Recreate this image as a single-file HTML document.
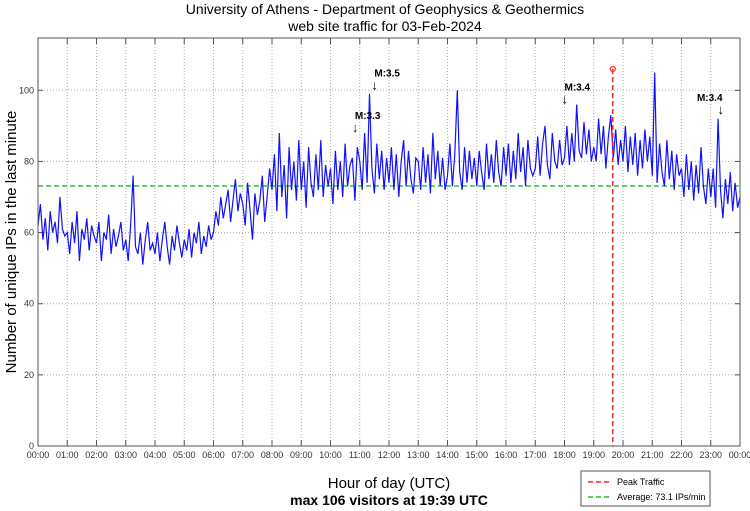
<!DOCTYPE html>
<html><head><meta charset="utf-8"><style>
body{margin:0;background:#fff}
svg{display:block;font-family:"Liberation Sans",sans-serif}
</style></head><body>
<svg id="chart" width="750" height="511">
<text x="385" y="14" font-size="14" text-anchor="middle">University of Athens - Department of Geophysics &amp; Geothermics</text>
<text x="385" y="31" font-size="14" text-anchor="middle">web site traffic for 03-Feb-2024</text>
<g id="grid"></g>
<g id="series"></g>
<g id="annot"></g>
<rect x="38" y="38" width="702" height="408" fill="none" stroke="#555" stroke-width="1"/>
<text transform="translate(16,242) rotate(-90)" font-size="15" text-anchor="middle">Number of unique IPs in the last minute</text>
<text x="389" y="488" font-size="15" text-anchor="middle">Hour of day (UTC)</text>
<text x="389" y="505" font-size="14" text-anchor="middle" font-weight="bold">max 106 visitors at 19:39 UTC</text>
<g>
<rect x="581" y="471" width="129" height="35" fill="#fff" stroke="#555"/>
<line x1="588" y1="482" x2="612" y2="482" stroke="#f22" stroke-width="1.5" stroke-dasharray="5,3"/>
<text x="617" y="485" font-size="9">Peak Traffic</text>
<line x1="588" y1="497" x2="612" y2="497" stroke="#2b2" stroke-width="1.5" stroke-dasharray="5,3"/>
<text x="617" y="500" font-size="9">Average: 73.1 IPs/min</text>
</g>
</svg>
<script>
const values=[
62,68,58,64,55,66,60,63,57,70,61,59,
60,54,63,57,66,52,61,58,64,55,62,59,
57,63,52,60,58,65,54,61,56,59,63,55,
58,52,62,76,56,54,60,51,58,63,55,57,
54,60,52,58,63,56,51,59,55,62,57,53,
58,55,61,53,60,57,63,54,59,56,62,58,
60,66,62,70,64,68,72,63,69,75,66,71,
68,62,74,66,58,71,65,69,76,63,70,78,
72,82,66,88,70,79,64,84,72,80,69,86,
72,80,67,84,74,70,82,72,86,70,79,73,
78,68,83,72,80,70,85,73,79,81,69,84,
80,72,88,74,99,78,71,85,75,83,72,81,
74,84,72,82,70,80,86,73,83,75,71,81,
80,72,84,74,82,71,88,75,83,73,81,72,
76,85,73,82,100,77,72,84,74,83,75,81,
73,83,77,72,85,75,82,74,86,77,73,84,
76,85,74,83,75,88,77,84,73,86,78,76,
78,87,76,85,90,79,75,88,80,78,86,79,
81,90,79,88,80,96,83,81,91,82,89,80,
84,80,92,82,90,78,87,93,81,89,79,86,
80,90,77,87,79,88,76,86,78,89,80,87,
76,105,74,85,77,73,86,75,83,72,82,76,
78,70,82,72,80,69,79,71,84,73,68,78,
70,78,67,92,72,64,75,68,77,66,74,67,70];
const stepMinutes=5;
const yTicks=[0,20,40,60,80,100];
const xTickLabels=["00:00","01:00","02:00","03:00","04:00","05:00","06:00","07:00","08:00","09:00","10:00","11:00","12:00","13:00","14:00","15:00","16:00","17:00","18:00","19:00","20:00","21:00","22:00","23:00","00:00"];
const peakMinute=19*60+39, peakValue=106;
const average=73.1;
const quakeLabels=["M:3.3","M:3.5","M:3.4","M:3.4"];
const quakeMinutes=[650,690,1080,1400];
const quakeValues=[88,100,96,93];

const X0=38,X1=740,Y0=446,Y1=38,YMAX=114.7;
const xs=m=>X0+(X1-X0)*m/1440;
const ys=v=>Y0-(Y0-Y1)*v/YMAX;
const NS="http://www.w3.org/2000/svg";
function mk(tag,attrs,parent){const e=document.createElementNS(NS,tag);for(const k in attrs)e.setAttribute(k,attrs[k]);parent.appendChild(e);return e;}
const grid=document.getElementById('grid'),ser=document.getElementById('series'),an=document.getElementById('annot'),svg=document.getElementById('chart');
yTicks.forEach(v=>{
 const y=ys(v);
 if(v>0){const g=mk('line',{x1:X0,x2:X1,y1:y,y2:y,stroke:'#aaa','stroke-dasharray':'1,2'},grid);
 
 }
 mk('line',{x1:X0,x2:X0+5,y1:y,y2:y,stroke:'#555'},grid);
 mk('line',{x1:X1-5,x2:X1,y1:y,y2:y,stroke:'#555'},grid);
 const t=mk('text',{x:X0-4,y:y+3,'font-size':9,'text-anchor':'end',fill:'#333'},svg);
 t.textContent=v;
 
 
});
xTickLabels.forEach((l,i)=>{
 const x=xs(i*60);
 if(i>0&&i<24){const g=mk('line',{x1:x,x2:x,y1:Y1,y2:Y0,stroke:'#aaa','stroke-dasharray':'1,2'},grid);
 
 }
 mk('line',{x1:x,x2:x,y1:Y0-6,y2:Y0,stroke:'#555'},grid);
 mk('line',{x1:x,x2:x,y1:Y1,y2:Y1+6,stroke:'#555'},grid);
 const t=mk('text',{x:x,y:458,'font-size':9,'text-anchor':'middle',fill:'#333'},svg);
 t.textContent=l;
 
 
});
const avg=mk('line',{x1:X0,x2:X1,y1:ys(average),y2:ys(average),stroke:'#2a2','stroke-width':1.3,'stroke-dasharray':'5,3'},ser);


const pts=values.map((v,i)=>xs(i*stepMinutes).toFixed(1)+','+ys(v).toFixed(1)).join(' ');
const pl=mk('polyline',{points:pts,fill:'none',stroke:'#11f','stroke-width':1.2},ser);


const pk=mk('line',{x1:xs(peakMinute),x2:xs(peakMinute),y1:ys(peakValue),y2:Y0,stroke:'#f22','stroke-width':1.5,'stroke-dasharray':'5,3'},ser);


const pc=mk('circle',{cx:xs(peakMinute),cy:ys(peakValue),r:2.5,fill:'none',stroke:'#f22','stroke-width':1.2},ser);


quakeLabels.forEach((l,i)=>{
 const x=xs(quakeMinutes[i]),y=ys(quakeValues[i]);
 const last=i===quakeLabels.length-1;
 const t=mk('text',{x:last?x+2:x,y:y-14,'font-size':10,'font-weight':'bold','text-anchor':last?'end':'start'},an);
 t.textContent=l;
 
 
 const a=mk('text',{x:x-3,y:y-1,'font-size':13},an);
 a.textContent='↓';
 
 
});
</script>
</body></html>
